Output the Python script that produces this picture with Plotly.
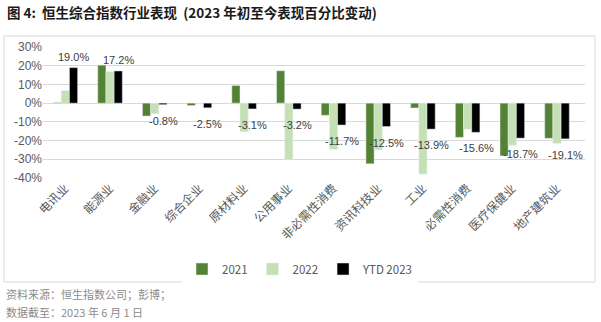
import plotly.graph_objects as go

categories = ["电讯业", "能源业", "金融业", "综合企业", "原材料业", "公用事业",
              "非必需性消费", "资讯科技业", "工业", "必需性消费", "医疗保健业", "地产建筑业"]
v2021 = [0.3, 20.3, -6.9, -1.3, 9.4, 17.3, -6.5, -32.4, -2.6, -18.3, -28.2, -18.8]
v2022 = [6.7, 16.8, -5.6, -0.3, -15.3, -30.3, -24.7, -25.0, -37.9, -13.9, -22.5, -21.5]
vytd = [19.0, 17.2, -0.8, -2.5, -3.1, -3.2, -11.7, -12.5, -13.9, -15.6, -18.7, -19.1]
yticks = [30, 20, 10, 0, -10, -20, -30, -40]

CJK = "Noto Sans CJK SC, Noto Sans, sans-serif"
fig = go.Figure()
fig.add_trace(go.Bar(x=categories, y=v2021, name="2021", marker_color="#548235"))
fig.add_trace(go.Bar(x=categories, y=v2022, name="2022", marker_color="#C5E0B4"))
fig.add_trace(go.Bar(x=categories, y=vytd, name="YTD 2023", marker_color="#000000"))

for c, v in zip(categories, vytd):
    fig.add_annotation(x=c, y=v, text=f"{v:.1f}%", showarrow=False, xshift=8.5,
                       yanchor="bottom" if v > 0 else "top",
                       yshift=3 if v > 0 else -8,
                       font=dict(size=11, color="#404040", family="Liberation Sans, Arial"))

W, H = 601, 322
L, R, T, B = 43, 16, 47, 144
pw, ph = W - L - R, H - T - B
def px(x):
    return (x - L) / pw
def py(y):
    return (H - B - y) / ph

fig.add_shape(type="rect", xref="paper", yref="paper", x0=px(4), x1=px(595), y0=py(282), y1=py(36),
              line=dict(color="#D9D9D9", width=1), fillcolor="rgba(0,0,0,0)", layer="below")

fig.add_annotation(xref="paper", yref="paper", x=px(5), y=py(12), xanchor="left", yanchor="middle",
                   text="<b>图 4:  恒生综合指数行业表现  (2023 年初至今表现百分比变动)</b>", showarrow=False,
                   font=dict(size=13.5, color="#1a1a1a", family=CJK))
fig.add_annotation(xref="paper", yref="paper", x=px(4), y=py(294), xanchor="left", yanchor="middle",
                   text="资料来源：恒生指数公司；彭博；", showarrow=False,
                   font=dict(size=11, color="#8c8c8c", family=CJK))
fig.add_annotation(xref="paper", yref="paper", x=px(4), y=py(312), xanchor="left", yanchor="middle",
                   text="数据截至：2023 年 6 月 1 日", showarrow=False,
                   font=dict(size=11, color="#8c8c8c", family=CJK))

fig.update_layout(
    width=W, height=H, margin=dict(l=L, r=R, t=T, b=B),
    paper_bgcolor="white", plot_bgcolor="white",
    barmode="group", bargap=0.45, bargroupgap=0,
    showlegend=True,
    legend=dict(orientation="h", x=px(300), xanchor="center", y=py(269), yanchor="middle",
                font=dict(size=11.5, color="#595959", family=CJK), itemwidth=30, traceorder="normal"),
    font=dict(family=CJK, color="#595959"),
)
fig.update_xaxes(tickangle=-45, tickfont=dict(size=12, color="#595959", family=CJK),
                 showgrid=False, showline=False, ticks="")
fig.update_yaxes(range=[-40, 30], tickvals=yticks, ticktext=[f"{t}%" for t in yticks],
                 showgrid=True, gridcolor="#D9D9D9", gridwidth=1, zeroline=True,
                 zerolinecolor="#D9D9D9", zerolinewidth=1,
                 tickfont=dict(size=12, color="#595959", family="Liberation Sans, Arial"))
fig.write_html("out.html")
